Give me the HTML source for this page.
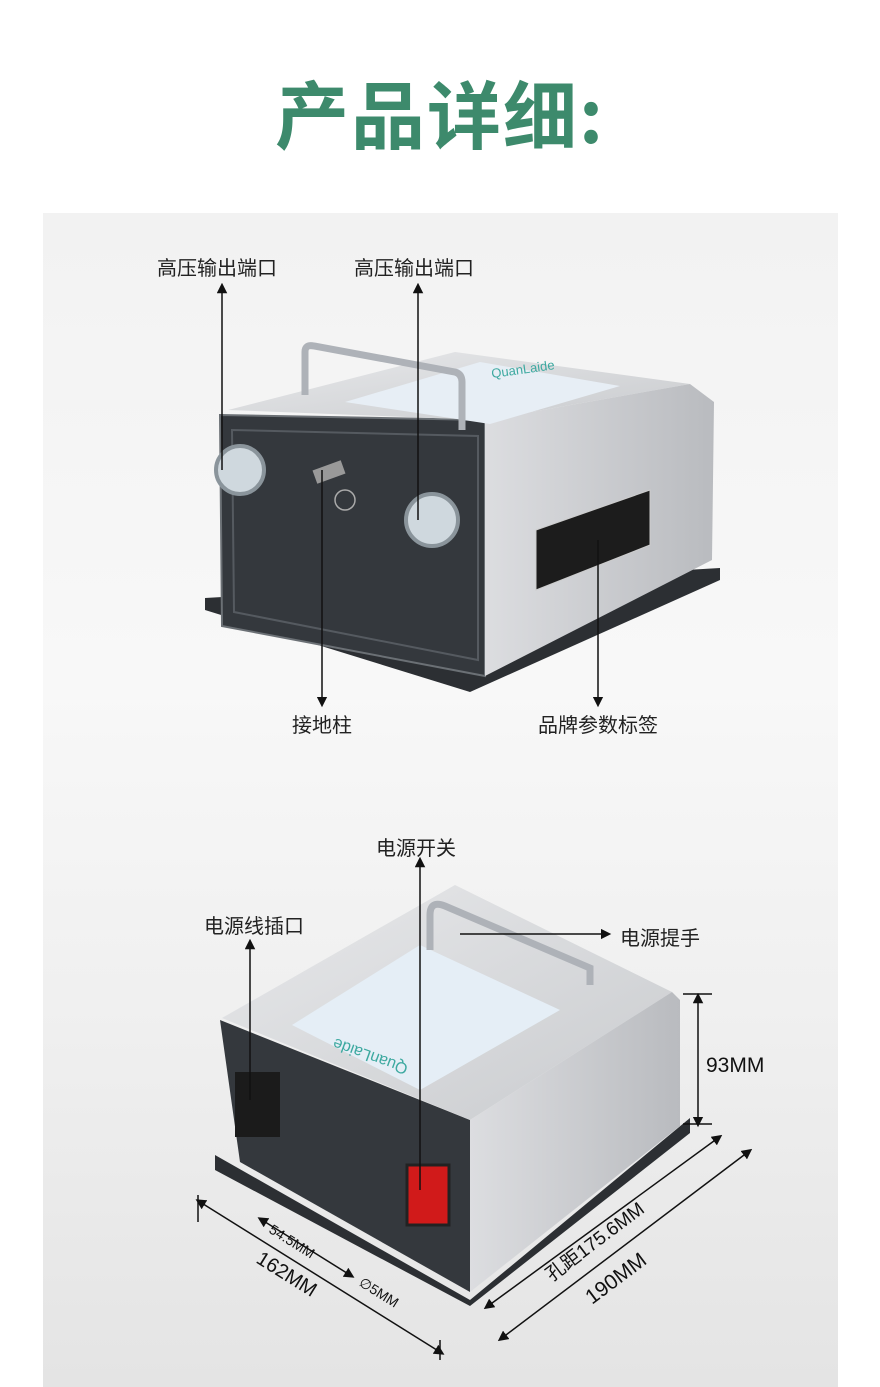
<!DOCTYPE html>
<html><head><meta charset="utf-8"><style>
html,body{margin:0;padding:0;}
body{width:880px;height:1387px;position:relative;background:#fff;font-family:"Liberation Sans","Noto Sans CJK SC",sans-serif;overflow:hidden;}
.title{position:absolute;top:58px;left:0;width:880px;text-align:center;font-size:74px;font-weight:bold;color:#3d8a6c;letter-spacing:2px;font-family:"Noto Sans CJK SC",sans-serif;}
.panel{position:absolute;left:43px;top:213px;width:795px;height:1174px;background:linear-gradient(#f2f2f2,#f8f8f8 40%,#efefef 70%,#e4e4e4);}
.lab{position:absolute;font-size:20px;color:#222;white-space:nowrap;font-family:"Noto Sans CJK SC",sans-serif;}
svg{position:absolute;left:0;top:0;}
</style></head><body>
<div class="title">产品详细:</div>
<div class="panel"></div>
<svg width="880" height="1387" viewBox="0 0 880 1387">
<defs>
<linearGradient id="sil" x1="0" y1="0" x2="1" y2="1"><stop offset="0" stop-color="#e8e9eb"/><stop offset="1" stop-color="#c9cbce"/></linearGradient>
<linearGradient id="sil2" x1="0" y1="0" x2="1" y2="0"><stop offset="0" stop-color="#dcdde0"/><stop offset="1" stop-color="#b9bbbf"/></linearGradient>
<marker id="ar" viewBox="0 0 10 10" refX="5" refY="5" markerWidth="7" markerHeight="7" orient="auto-start-reverse"><path d="M0,0 L10,5 L0,10 z" fill="#111"/></marker>
</defs>
<!-- device 1 -->
<polygon points="205,598 720,568 720,580 470,692 205,610" fill="#2c2f33"/>
<polygon points="220,415 485,420 485,676 222,626" fill="#34383d" stroke="#6b7075" stroke-width="2"/>
<polygon points="232,430 478,436 478,660 234,612" fill="none" stroke="#555a60" stroke-width="2"/>
<polygon points="228,410 455,352 690,384 485,420" fill="url(#sil)"/>
<polygon points="485,420 690,384 714,402 712,560 485,676" fill="url(#sil2)"/>
<polygon points="345,402 480,362 620,386 490,424" fill="#e7eef5"/>
<text x="492" y="378" font-size="13" fill="#3da9a0" font-family="Liberation Sans" transform="rotate(-8 492 378)">QuanLaide</text>
<polygon points="536,530 650,490 650,545 536,590" fill="#1c1c1c" stroke="#ccc"/>
<path d="M305,395 L305,352 Q305,344 314,346 L455,372 Q462,374 462,382 L462,430" fill="none" stroke="#aeb2b8" stroke-width="7"/>
<circle cx="240" cy="470" r="24" fill="#cfd8de" stroke="#8a949b" stroke-width="4"/>
<circle cx="432" cy="520" r="26" fill="#cfd8de" stroke="#8a949b" stroke-width="4"/>
<rect x="314" y="465" width="30" height="14" fill="#999" transform="rotate(-20 329 472)"/>
<circle cx="345" cy="500" r="10" fill="none" stroke="#aaa" stroke-width="1.5"/>
<!-- device 2 -->
<polygon points="215,1155 470,1300 690,1118 690,1133 470,1306 215,1170" fill="#2c2f33"/>
<polygon points="220,1020 470,1120 470,1292 240,1162" fill="#34383d"/>
<polygon points="222,1018 455,885 672,992 470,1120" fill="url(#sil)"/>
<polygon points="470,1120 672,992 680,1000 680,1126 470,1292" fill="url(#sil2)"/>
<polygon points="292,1025 420,945 560,1010 420,1090" fill="#e5eef6"/>
<text x="325" y="1030" font-size="16" fill="#3da9a0" transform="rotate(200 370 1040)">QuanLaide</text>
<rect x="235" y="1072" width="45" height="65" fill="#1b1b1b"/>
<rect x="407" y="1165" width="42" height="60" fill="#d11a1a" stroke="#222" stroke-width="3"/>
<path d="M430,950 L430,915 Q430,900 445,906 L590,968 L590,985" fill="none" stroke="#aeb2b8" stroke-width="7"/>
<!-- annotation lines -->
<g stroke="#111" stroke-width="1.5" fill="none">
<line x1="222" y1="470" x2="222" y2="288" marker-end="url(#ar)"/>
<line x1="418" y1="520" x2="418" y2="288" marker-end="url(#ar)"/>
<line x1="322" y1="470" x2="322" y2="702" marker-end="url(#ar)"/>
<line x1="598" y1="540" x2="598" y2="702" marker-end="url(#ar)"/>
<line x1="420" y1="1190" x2="420" y2="862" marker-end="url(#ar)"/>
<line x1="250" y1="1100" x2="250" y2="944" marker-end="url(#ar)"/>
<line x1="460" y1="934" x2="606" y2="934" marker-end="url(#ar)"/>
<line x1="698" y1="998" x2="698" y2="1122" marker-start="url(#ar)" marker-end="url(#ar)"/>
<line x1="683" y1="994" x2="712" y2="994"/><line x1="683" y1="1124" x2="712" y2="1124"/>
<line x1="200" y1="1202" x2="440" y2="1352" marker-start="url(#ar)" marker-end="url(#ar)"/>
<line x1="198" y1="1195" x2="198" y2="1222"/><line x1="440" y1="1340" x2="440" y2="1360"/>
<line x1="262" y1="1220" x2="350" y2="1275" marker-start="url(#ar)" marker-end="url(#ar)"/>
<line x1="488" y1="1306" x2="718" y2="1138" marker-start="url(#ar)" marker-end="url(#ar)"/>
<line x1="502" y1="1338" x2="748" y2="1152" marker-start="url(#ar)" marker-end="url(#ar)"/>
</g>
<g font-family="Liberation Sans" fill="#111">
<text x="706" y="1072" font-size="21">93MM</text>
<text x="255" y="1262" font-size="20" transform="rotate(32 255 1262)">162MM</text>
<text x="268" y="1232" font-size="14" transform="rotate(32 268 1232)">54.5MM</text>
<text x="358" y="1285" font-size="14" transform="rotate(32 358 1285)">∅5MM</text>
<text x="552" y="1282" font-size="19" transform="rotate(-37 552 1282)">孔距175.6MM</text>
<text x="592" y="1305" font-size="21" transform="rotate(-37 592 1305)">190MM</text>
</g>
</svg>
<div class="lab" style="left:157px;top:252px">高压输出端口</div>
<div class="lab" style="left:354px;top:252px">高压输出端口</div>
<div class="lab" style="left:292px;top:709px">接地柱</div>
<div class="lab" style="left:538px;top:709px">品牌参数标签</div>
<div class="lab" style="left:376px;top:832px">电源开关</div>
<div class="lab" style="left:204px;top:910px">电源线插口</div>
<div class="lab" style="left:620px;top:922px">电源提手</div>
</body></html>
